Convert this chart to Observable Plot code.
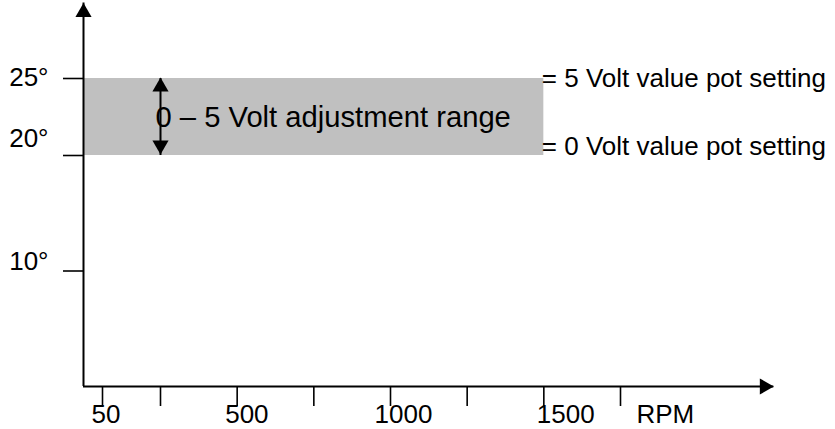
<!DOCTYPE html>
<html><head><meta charset="utf-8">
<script src="https://cdn.jsdelivr.net/npm/d3@7"></script>
<script src="https://cdn.jsdelivr.net/npm/@observablehq/plot@0.6"></script>
<style>
body{margin:0;background:#fff;color:#000;}
#chart svg{font-family:"Liberation Sans",Arial,sans-serif;}
</style>
</head><body><div id="chart"></div>
<script>
// ---- data ----
const yTicks = [10, 20, 25];
const yTickLabels = ["10°", "20°", "25°"];
const xTicks = [50, 250, 500, 750, 1000, 1250, 1500, 1750];
const xLabelValues = [50, 500, 1000, 1500];
const xLabels = ["50", "500", "1000", "1500"];
const xUnitValue = 1750;
const xUnitLabel = "RPM";
const bandLow = 20;
const bandHigh = 25;
const bandStart = 0;
const bandEnd = 1500;
const bandText = "0 – 5 Volt adjustment range";
const highText = "= 5 Volt value pot setting";
const lowText = "= 0 Volt value pot setting";
const rangeArrowX = 250;
const xAxisEnd = 2250;
const yAxisTop = 29.9;

// ---- style (offsets in px) ----
const yLabelDy = {10: -9, 20: -17, 25: -1};
const xLabelDx = {50: -11, 500: -12, 1000: -16, 1500: -7};
const FS = 26;
const headR = 6;
const headOff = 9.33;

const marks = [
  Plot.rect([{x1: bandStart, x2: bandEnd, y1: bandLow, y2: bandHigh}],
    {x1: "x1", x2: "x2", y1: "y1", y2: "y2", fill: "#c0c0c0"}),
  Plot.text([bandText], {x: rangeArrowX, y: (bandLow + bandHigh) / 2, text: d => d,
    textAnchor: "start", dx: -5, dy: 1, fontSize: 29.2, fill: "#000"}),
  Plot.ruleX([rangeArrowX], {y1: bandLow, y2: bandHigh, stroke: "#000", strokeWidth: 2}),
  Plot.dot([bandHigh], {x: rangeArrowX, y: d => d, symbol: "triangle", r: headR, fill: "#000", dy: headOff - 1}),
  Plot.dot([bandLow], {x: rangeArrowX, y: d => d, symbol: "triangle", r: headR, fill: "#000", rotate: 180, dy: -headOff - 1}),
  Plot.text([highText], {x: bandEnd, y: bandHigh, text: d => d, textAnchor: "start", dx: -2, dy: 0, fontSize: FS, fill: "#000"}),
  Plot.text([lowText], {x: bandEnd, y: bandLow, text: d => d, textAnchor: "start", dx: -2, dy: -9, fontSize: FS, fill: "#000"}),
  // axes lines
  Plot.ruleX([0], {y1: 0, y2: yAxisTop, stroke: "#000", strokeWidth: 2}),
  Plot.ruleY([0], {x1: 0, x2: xAxisEnd, stroke: "#000", strokeWidth: 2}),
  Plot.dot([yAxisTop], {x: 0, y: d => d, symbol: "triangle", r: headR, fill: "#000", dy: headOff}),
  Plot.dot([xAxisEnd], {x: d => d, y: 0, symbol: "triangle", r: headR, fill: "#000", rotate: 90, dx: -headOff}),
  // ticks
  Plot.axisY({ticks: yTicks, tickSize: 20, tickFormat: () => "", stroke: "#000", strokeWidth: 1.6, label: null}),
  Plot.axisX({ticks: xTicks, tickSize: 20, tickFormat: () => "", stroke: "#000", strokeWidth: 1.6, label: null}),
  // tick labels
  ...yTicks.map((t, i) => Plot.text([t], {x: 0, y: d => d, text: () => yTickLabels[i],
    textAnchor: "end", dx: -35, dy: yLabelDy[t], fontSize: FS, fill: "#000"})),
  ...xLabelValues.map((v, i) => Plot.text([v], {x: d => d, y: 0, text: () => xLabels[i],
    textAnchor: "start", dx: xLabelDx[v], dy: 28, fontSize: FS, fill: "#000"})),
  Plot.text([xUnitValue], {x: d => d, y: 0, text: () => xUnitLabel, textAnchor: "start", dx: 16, dy: 28, fontSize: FS, fill: "#000"})
];

const chart = Plot.plot({
  width: 835,
  height: 429,
  marginLeft: 83,
  marginRight: 62,
  marginTop: 3,
  marginBottom: 43,
  style: {background: "#fff", color: "#000", fontFamily: "Liberation Sans, Arial, sans-serif"},
  x: {type: "linear", domain: [0, 50, 250, 1000], range: [83, 102, 160, 390], axis: null},
  y: {type: "linear", domain: [0, 20, 25], range: [386, 155, 78], axis: null},
  marks
});
document.getElementById("chart").appendChild(chart);
</script>
</body></html>
